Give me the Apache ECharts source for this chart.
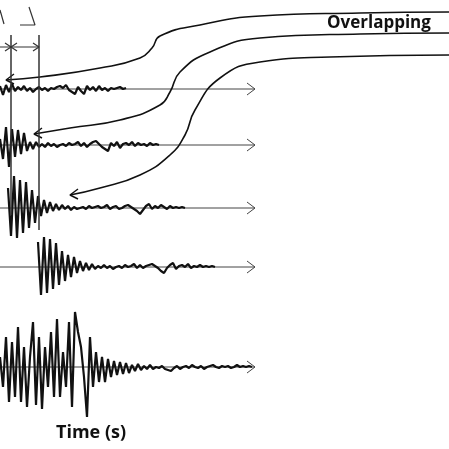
<!DOCTYPE html>
<html><head><meta charset="utf-8">
<script src="https://cdn.jsdelivr.net/npm/echarts@6/dist/echarts.min.js"></script>
<style>html,body{margin:0;background:#fff}#main{width:449px;height:449px}</style>
</head><body><div id="main"></div>
<script>
var myChart = echarts.init(document.getElementById('main'));

// trace amplitudes, sampled every 3 time units
var trace1 = [3,-6,4,-3,5,-2,2,-1,3,-2,1,-3,0,2,-1,1,-2,1,0,2,3,1,4,-1,-3,-5,2,-2,-5,3,-1,2,-2,3,-1,1,-2,1,0,1,2,0,1];
var trace2 = [6,-14,18,-22,16,-12,15,-9,12,-6,3,-4,3,-2,1,-2,2,-1,1,-2,0,1,-1,2,0,1,3,-1,2,-2,1,3,4,1,-2,-4,-6,2,-1,3,-3,1,2,0,3,-1,2,0,1,-1,2,0,1,0];
var trace3 = [20,-28,32,-30,28,-25,26,-20,18,-15,12,-8,8,-5,6,-3,4,-2,3,-1,2,-2,1,-1,0,1,-1,2,0,1,2,0,1,3,-1,1,2,-1,0,2,3,1,-1,-3,-6,-2,2,4,-1,2,0,3,1,-1,2,0,1,0,1,0];
var trace4 = [25,-28,30,-26,28,-22,24,-18,16,-14,12,-10,10,-6,6,-4,4,-3,3,-2,1,-1,2,-1,1,-2,0,1,-1,2,0,1,3,-1,2,-1,1,2,3,1,-1,-4,-6,-1,2,4,-2,1,2,0,3,-1,1,0,2,0,1,0,1,0];
var trace5 = [10,-20,30,-35,25,-30,40,-35,20,-40,10,45,-38,30,-42,20,-20,35,-30,48,-30,15,-20,45,-40,55,35,20,-10,-50,30,-20,15,-15,10,-15,8,-10,6,-8,5,-7,4,-6,2,-4,3,-3,1,-2,2,-2,0,-1,1,-2,-3,-4,-1,1,-2,0,1,-1,2,0,-1,1,-2,0,1,2,0,-1,1,0,1,-1,0,2,0,1,0,1,0];
var bases = [89, 145, 208, 267, 367];
var starts = [0, 0, 8, 38, 0];
var traces = [trace1, trace2, trace3, trace4, trace5];

// connector curves (from right side toward traces)
var curve1 = [[449,12],[360,13],[260,16],[200,25],[160,36],[152,48],[140,58],[100,68],[40,77],[6,80]];
var curve2 = [[449,33],[360,34],[260,38],[210,52],[180,72],[170,92],[160,105],[120,120],[70,128],[34,134]];
var curve3 = [[449,55],[330,57],[260,62],[220,78],[195,110],[185,135],[170,155],[140,175],[100,188],[70,195]];

function tracePts(a, x0, base) {
  return a.map(function (v, i) { return [x0 + i * 3, base - v]; });
}
var series = [];
bases.forEach(function (b, k) {
  series.push({type:'line', data:[[0,b],[255,b]], symbol:'none', lineStyle:{color:'#444', width:1}, silent:true});
  series.push({type:'line', data:[[247,b-6],[255,b],[247,b+6]], symbol:'none', lineStyle:{color:'#444', width:1}});
  series.push({type:'line', data:tracePts(traces[k], starts[k], b), symbol:'none', lineStyle:{color:'#111', width:2.2}});
});
[curve1, curve2, curve3].forEach(function (c) {
  series.push({type:'line', data:c, smooth:0.5, symbol:'none', lineStyle:{color:'#111', width:1.6}});
  var e = c[c.length - 1];
  series.push({type:'line', data:[[e[0]+8,e[1]-6],e,[e[0]+8,e[1]+4]], symbol:'none', lineStyle:{color:'#111', width:1.4}});
});
// vertical markers and spacing arrows
series.push({type:'line', data:[[11,35],[11,215]], symbol:'none', lineStyle:{color:'#333', width:1.5}});
series.push({type:'line', data:[[39,35],[39,230]], symbol:'none', lineStyle:{color:'#333', width:1.5}});
series.push({type:'line', data:[[0,47],[39,47]], symbol:'none', lineStyle:{color:'#333', width:1.2}});
series.push({type:'line', data:[[5,43],[11,47],[5,51]], symbol:'none', lineStyle:{color:'#333', width:1.2}});
series.push({type:'line', data:[[17,43],[11,47],[17,51]], symbol:'none', lineStyle:{color:'#333', width:1.2}});
series.push({type:'line', data:[[33,43],[39,47],[33,51]], symbol:'none', lineStyle:{color:'#333', width:1.2}});
series.push({type:'line', data:[[0,10],[4,24]], symbol:'none', lineStyle:{color:'#333', width:1.2}});
series.push({type:'line', data:[[20,25],[35,25],[29,7]], symbol:'none', lineStyle:{color:'#333', width:1.2}});

myChart.setOption({
  animation:false,
  grid:{left:0, right:0, top:0, bottom:0},
  xAxis:{type:'value', min:0, max:449, show:false},
  yAxis:{type:'value', min:0, max:449, inverse:true, show:false},
  graphic:[
    {type:'text', left:327, top:15, style:{text:'Overlapping', font:'bold 17px "Open Sans", sans-serif', fill:'#111'}},
    {type:'text', left:56, top:424, style:{text:'Time (s)', font:'bold 18px "Open Sans", sans-serif', fill:'#111'}}
  ],
  series:series
});
</script></body></html>
